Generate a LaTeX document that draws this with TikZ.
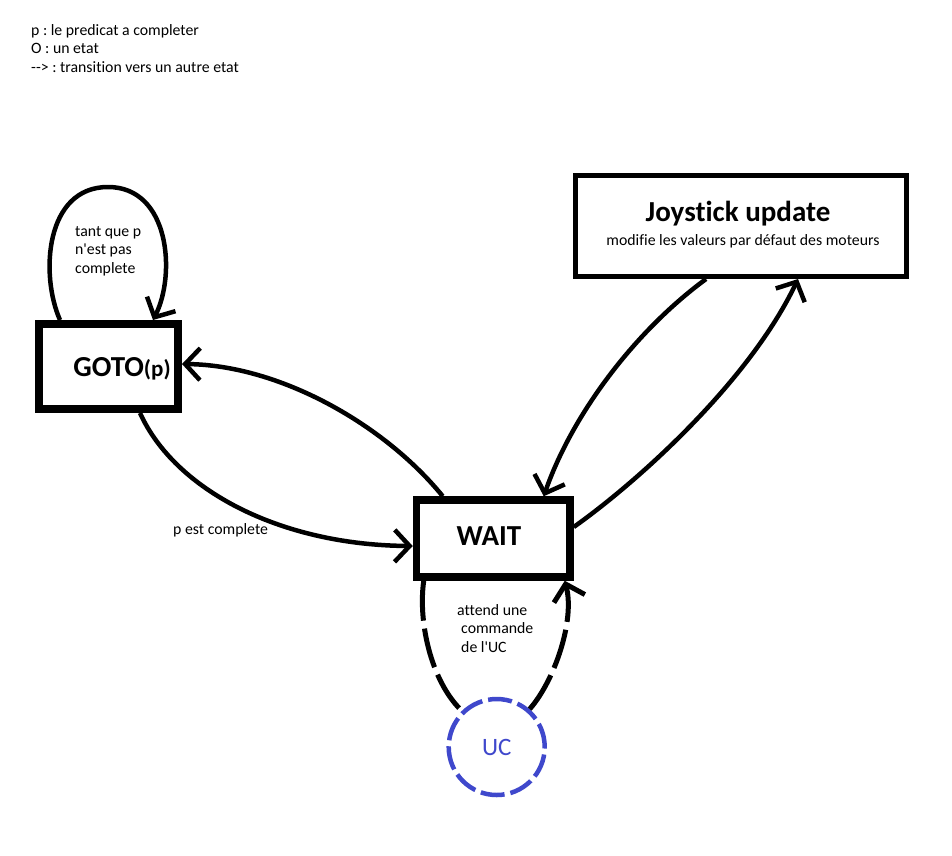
\documentclass[tikz,border=0pt]{standalone}
\usepackage{fontspec}
\setmainfont{Carlito}[Ligatures={TeXOff,NoCommon}]
\frenchspacing
\usetikzlibrary{arrows.meta,calc}
\definecolor{ucblue}{HTML}{3F48CC}
\begin{document}
\begin{tikzpicture}[x=1pt,y=-1pt,
  statebox/.style={draw, rectangle, inner sep=0pt},
  small/.style={font=\fontsize{15.8}{18.8}\selectfont, inner sep=0pt, align=left},
  big/.style={font=\fontsize{29}{32}\selectfont\bfseries, inner sep=0pt},
  conn/.style={line width=4.5pt, -{Straight Barb[length=15pt,width=32pt]}},
  dashconn/.style={line width=5pt, dash pattern=on 40pt off 8pt},
]
\useasboundingbox (0,0) rectangle (952,855);
\fill[white] (0,0) rectangle (952,855);

% legend
\node[small, anchor=north west] (legend) at (31,24) {p : le predicat a completer\\O : un etat\\--> : transition vers un autre etat};

% state boxes
\node[statebox, line width=8pt, minimum width=139pt, minimum height=85pt] (goto) at (108.5,366.5) {};
\node[statebox, line width=7.5pt, minimum width=153.5pt, minimum height=77pt] (wait) at (493.25,538.5) {};
\node[statebox, line width=5pt, minimum width=331pt, minimum height=101pt] (joy) at (741,226) {};
\node[circle, draw=ucblue, line width=4.5pt, dash pattern=on 24pt off 6pt, minimum size=96pt, inner sep=0pt, text=ucblue, font=\fontsize{25}{28}\selectfont] (uc) at (496.7,747) {UC};

% texts in boxes
\node[big, anchor=base] (gototext) at (122,376) {GOTO{\fontsize{23}{26}\selectfont(p)}};
\node[big, anchor=base] (waittext) at (489,545) {WAIT};
\node[big, anchor=base] (joytext) at (738,221) {Joystick update};
\node[small, anchor=base] (joysub) at (743,245) {modifie les valeurs par défaut des moteurs};

% labels
\node[small, anchor=north west] (looplabel) at (75,226) {tant que p\\n'est pas\\complete};
\node[small, anchor=base west] (donelabel) at (173,534) {p est complete};
\node[small, anchor=north west] (uclabel) at (457,604) {attend une\\\hspace{4pt}commande\\\hspace{4pt}de l'UC};

% connectors
\draw[conn] ($(goto.north west)+(25,0)$) .. controls (40,275) and (45,187) .. (108,187)
  .. controls (170,187) and (176,275) .. ($(goto.north west)+(118,0)$);
\draw[conn] ($(wait.north west)+(30,0)$) .. controls (385,425) and (280,365) .. ($(goto.east)+(0,-2.5)$);
\draw[conn] ($(goto.south west)+(105,0)$) .. controls (175,490) and (280,545) .. ($(wait.west)+(0,7.5)$);
\draw[conn] ($(joy.south west)+(133,0)$) .. controls (630,335) and (570,420) .. ($(wait.north west)+(131,0)$);
\draw[conn] ($(wait.east)+(0,-11.5)$) .. controls (640,480) and (750,380) .. ($(joy.south west)+(225,0)$);
\draw[dashconn] ($(wait.south west)+(11,0)$) .. controls (418,620) and (430,680) .. (uc.134);
\draw[dashconn, -{Straight Barb[length=15pt,width=32pt]}] (uc.49) .. controls (555,680) and (575,620) .. ($(wait.south east)+(-9,0)$);
\end{tikzpicture}
\end{document}
